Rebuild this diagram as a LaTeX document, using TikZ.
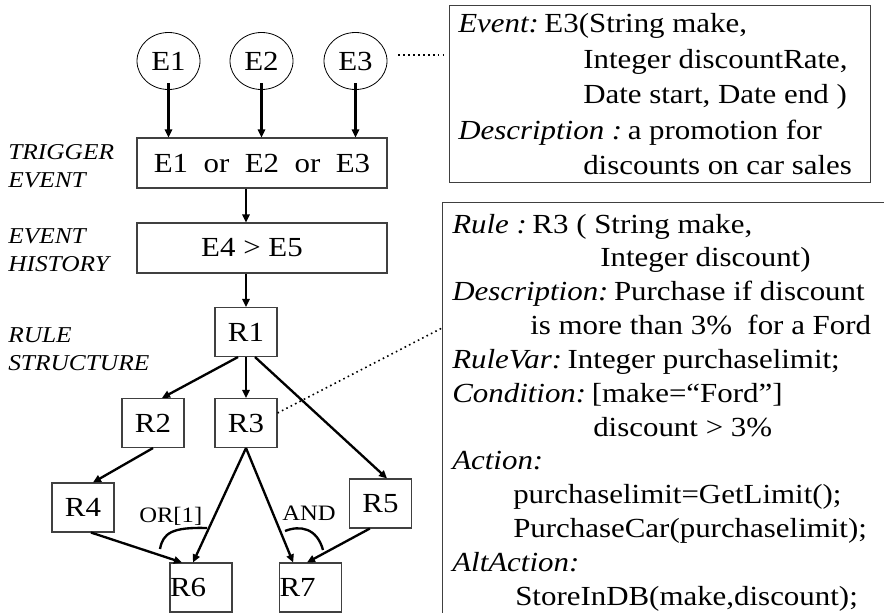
\documentclass[tikz,border=0pt]{standalone}
\usepackage{fontspec}
\setmainfont{Liberation Serif}[FakeStretch=1.12]
\usetikzlibrary{arrows.meta,calc,shapes.geometric}
% italic field label followed by a narrow gap
\newcommand\fieldlbl[1]{{\itshape #1}\hspace{0.2em}}

\begin{document}
\begin{tikzpicture}[x=0.75pt,y=-0.75pt,
  txt/.style={inner sep=0pt, anchor=base west, font=\fontsize{20.7}{25}\selectfont},
  side/.style={inner sep=0pt, anchor=base west, font=\fontsize{17}{20}\selectfont\itshape},
  gate/.style={inner sep=0pt, anchor=base west, font=\fontsize{16.5}{20}\selectfont},
  rbox/.style={draw=black!75, line width=0.8pt, minimum width=46.5pt, minimum height=36.75pt,
    inner sep=0pt, font=\fontsize{20.7}{25}\selectfont},
  rboxl/.style={rbox, text width=46.5pt, align=left},
  wbox/.style={draw=black!75, line width=0.8pt, minimum width=187.5pt, minimum height=37.5pt,
    inner sep=0pt, font=\fontsize{20.7}{25}\selectfont},
  panel/.style={draw=black!75, line width=0.8pt, anchor=north west, inner sep=0pt},
  ev/.style={draw, ellipse, line width=0.6pt, minimum width=47.25pt, minimum height=42.75pt,
    inner sep=0pt, font=\fontsize{20.7}{25}\selectfont},
  arr/.style={line width=1.75pt, -{Triangle[length=6pt,width=5.5pt]}},
  dotline/.style={line width=1.2pt, dash pattern=on 1.2pt off 2.5pt},
  gatearc/.style={line width=1.75pt}
]
\fill[white] (0,0) rectangle (884,613);
\useasboundingbox (0,0) rectangle (884,613);

% description panels
\node[panel, minimum width=315.75pt, minimum height=132.75pt] (evbox) at (449,5) {};
\node[panel, minimum width=345pt, minimum height=330pt] (rulebox) at (442,202) {};

% event panel text
\node[txt] (ev1) at (458,33)    {\fieldlbl{Event:}E3(String make,};
\node[txt] (ev2) at (583,68.5)  {Integer discountRate,};
\node[txt] (ev3) at (583,104)   {Date start, Date end )};
\node[txt] (ev4) at (458,139.5) {\fieldlbl{Description :}a promotion for};
\node[txt] (ev5) at (583,175)   {discounts on car sales};

% rule panel text
\node[txt] (ru1)  at (452,233)   {\fieldlbl{Rule :}R3 ( String make,};
\node[txt] (ru2)  at (600,266.8) {Integer discount)};
\node[txt] (ru3)  at (452,300.6) {\fieldlbl{Description:}Purchase if discount};
\node[txt] (ru4)  at (530,334.5) {is more than 3\%~~for a Ford};
\node[txt] (ru5)  at (452,368.3) {\fieldlbl{RuleVar:}Integer purchaselimit;};
\node[txt] (ru6)  at (452,402)   {\fieldlbl{Condition:}[make=“Ford”]};
\node[txt] (ru7)  at (593,436)   {discount > 3\%};
\node[txt] (ru8)  at (452,469.7) {{\itshape Action:}};
\node[txt] (ru9)  at (513,503.5) {purchaselimit=GetLimit();};
\node[txt] (ru10) at (513,537.3) {PurchaseCar(purchaselimit);};
\node[txt] (ru11) at (452,571)   {{\itshape AltAction:}};
\node[txt] (ru12) at (515,605)   {StoreInDB(make,discount);};

% row labels
\node[side] (lt1) at (8,159) {TRIGGER};
\node[side] (lt2) at (8,187) {EVENT};
\node[side] (lh1) at (8,243) {EVENT};
\node[side] (lh2) at (8,271) {HISTORY};
\node[side] (lr1) at (8,342) {RULE};
\node[side] (lr2) at (8,370) {STRUCTURE};

% events and composite trigger
\node[ev] (E1) at (168.5,61) {E1};
\node[ev] (E2) at (261.5,61) {E2};
\node[ev] (E3) at (355.5,61) {E3};
\node[wbox] (trig) at (262,163) {E1~~or~~E2~~or~~E3};
\node[wbox] (hist) at (262,248) {\hspace*{-15pt}E4 > E5};

% rule tree
\node[rbox]  (R1) at (246,332)   {R1};
\node[rbox]  (R2) at (153,423)   {R2};
\node[rbox]  (R3) at (246,423)   {R3};
\node[rbox]  (R4) at (83,507.5)  {R4};
\node[rbox]  (R5) at (380.5,503.5) {R5};
\node[rboxl] (R6) at (201,587.5) {R6};
\node[rboxl] (R7) at (310.5,587.5) {R7};

% connectors
\foreach \e in {E1,E2,E3}
  \draw[arr] ([yshift=5pt]\e.south) -- (\e.south |- trig.north);
\draw[arr] (R1 |- trig.south) -- (R1 |- hist.north);
\draw[arr] (R1 |- hist.south) -- (R1.north);
\draw[arr] ([xshift=-6pt]R1.south) -- ([xshift=6.75pt]R2.north);
\draw[arr] (R1.south) -- (R3.north);
\draw[arr] ([xshift=6.75pt]R1.south) -- ([xshift=4.9pt]R5.north);
\draw[arr] (R2.south) -- ([xshift=7.5pt]R4.north);
\draw[arr] (R3.south) -- ([xshift=-6pt]R6.north);
\draw[arr] (R3.south) -- ([xshift=-13pt]R7.north);
\draw[arr] ([xshift=6pt]R4.south) -- ([xshift=-14.25pt]R6.north);
\draw[arr] ([xshift=-8pt]R5.south) -- ([xshift=-2.6pt]R7.north);

% join arcs
\draw[gatearc] (160,549) .. controls (163,533) and (172,527) .. (207,528);
\draw[gatearc] (285,531) .. controls (300,525) and (317,528) .. (323,550);
\node[gate] (orlab)  at (139,522) {OR[1]};
\node[gate] (andlab) at (282,520) {AND};

% links to the description panels
\coordinate (evport) at ($(evbox.north west)+(-6,50)$);
\coordinate (ruleport) at ($(rulebox.north west)+(0,126)$);
\draw[dotline] ([shift={(8.25pt,4.5pt)}]E3.east) -- (evport);
\draw[dotline] ([yshift=7.5pt]R3.east) -- (ruleport);
\end{tikzpicture}
\end{document}
